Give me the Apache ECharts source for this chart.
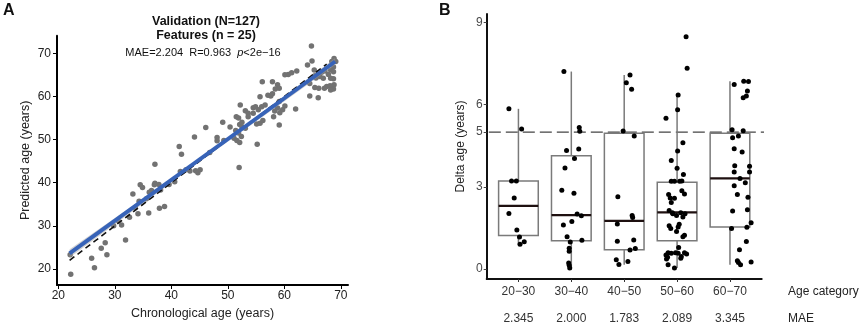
<!DOCTYPE html>
<html>
<head>
<meta charset="utf-8">
<script src="https://cdn.jsdelivr.net/npm/echarts@6/dist/echarts.min.js"></script>
<style>
  html, body { margin: 0; padding: 0; background: #fff; }
  #chart { width: 865px; height: 325px; }
</style>
</head>
<body>
<div id="chart"></div>
<script>
// panel A: chronological vs predicted age
const validationPts = [
  [22.2, 18.8], [22.1, 23.3], [26.4, 20.3], [25.9, 22.5], [28.6, 23.3], [27.6, 24.8], [28.3, 26.1],
  [31.9, 26.7], [31.2, 30.2], [29.8, 30.0], [30.6, 31.2], [32.6, 32.0], [34.1, 32.8], [36.0, 33.0],
  [37.9, 34.1], [38.8, 34.5], [33.2, 37.4], [34.5, 39.5], [34.9, 38.9], [34.3, 35.7], [35.6, 36.3],
  [36.1, 37.8], [36.5, 38.2], [37.1, 39.9], [37.8, 39.6], [37.0, 39.5], [37.1, 44.3], [38.1, 38.3],
  [39.6, 39.6], [40.6, 40.2], [33.6, 34.2],
  [41.4, 48.4], [41.8, 46.6], [43.3, 42.7], [44.3, 42.8], [44.7, 42.3], [45.1, 43.0], [41.6, 42.6],
  [44.1, 50.6], [46.1, 52.8], [49.1, 54.0], [48.1, 50.5], [48.1, 49.7], [49.3, 49.8], [46.8, 47.0],
  [50.4, 52.9], [42.6, 43.0],
  [51.5, 55.3], [51.9, 55.0], [52.2, 58.0], [52.0, 43.5], [55.2, 48.9], [51.1, 50.3], [51.6, 49.8],
  [52.1, 49.3], [52.4, 50.7], [52.1, 53.5], [52.5, 53.0], [53.1, 52.6], [51.4, 52.1], [51.9, 51.5],
  [53.1, 56.7], [53.6, 56.1], [53.6, 55.3], [54.5, 57.4], [54.9, 57.6], [55.4, 56.9], [56.0, 57.6],
  [56.6, 58.0], [55.1, 53.6], [55.7, 53.8], [56.2, 54.4], [52.5, 54.0], [54.5, 56.1],
  [55.7, 59.9], [57.1, 60.3], [57.6, 60.1], [57.9, 60.6], [57.9, 63.4], [58.8, 62.7], [59.1, 61.9],
  [58.4, 61.7], [59.1, 58.8], [60.1, 57.8], [59.7, 56.9], [58.8, 57.3], [58.1, 55.3], [58.3, 56.6],
  [59.1, 53.4], [62.0, 57.1], [59.2, 56.2], [56.1, 63.4], [60.1, 65.0], [60.7, 65.1], [61.3, 65.5],
  [62.2, 65.9],
  [64.5, 60.1], [66.0, 59.7], [65.4, 62.1], [66.1, 61.9], [67.1, 61.9], [67.5, 62.3], [68.7, 64.1],
  [68.2, 64.2], [68.8, 62.7], [68.1, 62.5], [68.7, 61.7], [68.2, 61.5], [65.4, 64.8], [66.3, 64.6],
  [66.9, 64.2], [67.8, 65.1], [64.5, 63.0], [65.6, 64.3], [65.3, 66.1], [66.0, 65.4], [66.6, 65.6],
  [67.2, 65.9], [64.8, 71.7], [64.9, 68.2], [64.1, 67.3], [68.8, 68.8], [69.1, 68.1], [68.4, 68.1],
  [68.7, 66.8], [68.2, 66.1], [68.7, 65.7]
];
const fitX = [22, 69];
const fitY = [23.6, 68.1];
const bandX = [22, 45.5, 69];
const bandLo = [22.6, 45.3, 67.3];
const bandHi = [24.6, 45.8, 68.9];
const identX = [22, 67.5];
const ticksA = [20, 30, 40, 50, 60, 70];

// panel B: delta age by age category
const ageCats = ['20\u221230', '30\u221240', '40\u221250', '50\u221260', '60\u221270'];
const maeVals = ['2.345', '2.000', '1.783', '2.089', '3.345'];
// [lower whisker, q1, median, q3, upper whisker]
const boxStats = [
  [0.91, 1.23, 2.31, 3.22, 5.85],
  [0.04, 1.04, 1.97, 4.14, 7.21],
  [0.16, 0.71, 1.76, 4.96, 7.08],
  [0.04, 1.04, 2.07, 3.17, 6.35],
  [0.16, 1.54, 3.31, 4.96, 6.86]
];
const pts2030 = [
  [0.82, 5.85], [1.06, 5.11], [0.87, 3.22], [0.96, 3.22], [0.92, 2.60], [0.82, 2.03], [0.97, 1.43],
  [1.02, 1.17], [1.03, 0.91], [1.11, 1.00]
];
const pts3040 = [
  [1.86, 7.21], [2.15, 5.17], [2.16, 5.03], [1.91, 4.33], [2.14, 4.38], [2.06, 4.04], [1.88, 3.69],
  [1.82, 2.88], [2.05, 2.77], [2.11, 2.01], [2.19, 1.95], [1.85, 1.61], [2.01, 1.74], [1.92, 1.18],
  [2.20, 1.05], [1.98, 0.99], [1.96, 0.76], [1.96, 0.65], [1.95, 0.22], [1.96, 0.14], [1.97, 0.04]
];
const pts4050 = [
  [3.11, 7.08], [3.04, 6.80], [3.14, 6.56], [2.98, 5.04], [3.19, 4.86], [2.88, 2.64], [3.15, 1.96],
  [3.16, 1.88], [2.87, 1.65], [2.87, 1.02], [3.18, 1.06], [3.21, 0.75], [3.11, 0.70], [2.85, 0.34],
  [2.90, 0.17], [3.07, 0.28]
];
const pts5060 = [
  [4.17, 8.48], [4.19, 7.33], [4.02, 6.35], [4.01, 5.82], [3.79, 5.51], [4.11, 4.61], [4.01, 4.31],
  [3.89, 3.96], [4.00, 3.68], [4.12, 3.45], [3.89, 3.21], [3.95, 3.21], [4.05, 3.21], [4.09, 3.22],
  [4.09, 2.86], [4.14, 2.74], [3.84, 2.72], [3.87, 2.60], [3.95, 2.59], [3.89, 2.43], [3.85, 2.14],
  [3.91, 2.06], [3.92, 2.02], [4.07, 2.06], [4.15, 2.02], [4.11, 1.90], [3.99, 1.96], [3.85, 1.58],
  [3.88, 1.48], [4.04, 1.64], [4.02, 1.54], [3.99, 1.37], [4.14, 1.24], [4.11, 1.18], [4.03, 0.79],
  [3.83, 0.60], [3.89, 0.58], [3.79, 0.52], [3.97, 0.60], [4.02, 0.58], [4.14, 0.60], [4.18, 0.55],
  [3.80, 0.37], [3.82, 0.43], [4.07, 0.40], [4.08, 0.46], [3.83, 0.16], [3.95, 0.04]
];
const pts6070 = [
  [5.08, 6.74], [5.26, 6.86], [5.35, 6.85], [5.33, 6.50], [5.31, 6.32], [5.25, 6.25], [5.04, 5.09],
  [5.25, 5.05], [5.16, 4.86], [5.05, 4.79], [5.08, 4.39], [5.23, 4.27], [5.09, 3.77], [5.37, 3.75],
  [5.08, 3.54], [5.37, 3.54], [5.19, 3.31], [5.29, 3.15], [5.08, 3.04], [5.14, 2.72], [5.34, 2.62],
  [5.05, 2.12], [5.33, 2.17], [5.40, 1.69], [5.03, 1.48], [5.32, 1.53], [5.31, 1.01], [5.18, 0.71],
  [5.14, 0.31], [5.16, 0.24], [5.20, 0.16], [5.40, 0.26]
];
const refDelta = 5;
const ticksB = [0, 3, 5, 6, 9];

const FONT = '"Liberation Sans", Arial, sans-serif';

const chart = echarts.init(document.getElementById('chart'), null, { renderer: 'canvas' });

const renderBox = (params, api) => {
  const i = api.value(0);
  const lo = api.value(1), q1 = api.value(2), md = api.value(3), q3 = api.value(4), hi = api.value(5);
  const hw = 0.375;
  const tl = api.coord([i - hw, q3]);
  const br = api.coord([i + hw, q1]);
  const pHi = api.coord([i, hi]), pQ3 = api.coord([i, q3]);
  const pLo = api.coord([i, lo]), pQ1 = api.coord([i, q1]);
  const mL = api.coord([i - hw, md]), mR = api.coord([i + hw, md]);
  const gray = { stroke: '#7a7a7a', lineWidth: 1.5, fill: null };
  return {
    type: 'group',
    children: [
      { type: 'line', shape: { x1: pHi[0], y1: pHi[1], x2: pQ3[0], y2: pQ3[1] }, style: gray },
      { type: 'line', shape: { x1: pLo[0], y1: pLo[1], x2: pQ1[0], y2: pQ1[1] }, style: gray },
      { type: 'rect', shape: { x: tl[0], y: tl[1], width: br[0] - tl[0], height: br[1] - tl[1] }, style: gray },
      { type: 'line', shape: { x1: mL[0], y1: mL[1], x2: mR[0], y2: mR[1] }, style: { stroke: '#1e1010', lineWidth: 2.2 } }
    ]
  };
};

const renderBand = (params, api) => {
  const up = bandX.map((x, i) => api.coord([x, bandHi[i]]));
  const dn = bandX.map((x, i) => api.coord([x, bandLo[i]])).reverse();
  return { type: 'polygon', shape: { points: up.concat(dn) }, style: { fill: 'rgba(160,160,160,0.45)' } };
};

const option = {
  animation: false,
  textStyle: { fontFamily: FONT },
  grid: [
    { left: 57, top: 35.7, width: 291, height: 249.3 },
    { left: 486.7, top: 14, width: 275, height: 267 }
  ],
  xAxis: [
    {
      type: 'value', gridIndex: 0, min: 19.77, max: 71.27,
      name: 'Chronological age (years)', nameLocation: 'middle', nameGap: 19,
      nameTextStyle: { fontFamily: FONT, fontSize: 12.5, color: '#222' },
      axisLine: { show: true, onZero: false, lineStyle: { color: '#000', width: 2 } },
      axisTick: { show: true, length: 4, customValues: ticksA, lineStyle: { color: '#000' } },
      axisLabel: { customValues: ticksA, margin: 5, fontFamily: FONT, fontSize: 12, color: '#222' },
      splitLine: { show: false }
    },
    {
      type: 'value', gridIndex: 1, min: 0.4, max: 5.6,
      axisLine: { show: true, onZero: false, lineStyle: { color: '#111', width: 2 } },
      axisTick: { show: true, length: 3, customValues: [1, 2, 3, 4, 5], lineStyle: { color: '#333' } },
      axisLabel: {
        customValues: [1, 2, 3, 4, 5], margin: 7, fontFamily: FONT, fontSize: 12, color: '#333',
        formatter: (v) => ageCats[Math.round(v) - 1]
      },
      splitLine: { show: false }
    },
    {
      type: 'value', gridIndex: 1, min: 0.4, max: 5.6, position: 'bottom', offset: 29,
      axisLine: { show: false }, axisTick: { show: false },
      axisLabel: {
        customValues: [1, 2, 3, 4, 5], margin: 5, fontFamily: FONT, fontSize: 12, color: '#333',
        formatter: (v) => maeVals[Math.round(v) - 1]
      },
      splitLine: { show: false }
    }
  ],
  yAxis: [
    {
      type: 'value', gridIndex: 0, min: 16.29, max: 74.08,
      name: 'Predicted age (years)', nameLocation: 'middle', nameGap: 25,
      nameTextStyle: { fontFamily: FONT, fontSize: 12.5, color: '#222' },
      axisLine: { show: true, onZero: false, lineStyle: { color: '#000', width: 2 } },
      axisTick: { show: true, length: 4, customValues: ticksA, lineStyle: { color: '#000' } },
      axisLabel: { customValues: ticksA, margin: 6, fontFamily: FONT, fontSize: 12, color: '#222' },
      splitLine: { show: false }
    },
    {
      type: 'value', gridIndex: 1, min: -0.36, max: 9.31,
      name: 'Delta age (years)', nameLocation: 'middle', nameGap: 20,
      nameTextStyle: { fontFamily: FONT, fontSize: 12, color: '#222' },
      axisLine: { show: true, onZero: false, lineStyle: { color: '#111', width: 2 } },
      axisTick: { show: true, length: 3, customValues: ticksB, lineStyle: { color: '#444' } },
      axisLabel: { customValues: ticksB, margin: 4, fontFamily: FONT, fontSize: 12, color: '#4a4a4a' },
      splitLine: { show: false }
    }
  ],
  series: [
    {
      type: 'scatter', xAxisIndex: 0, yAxisIndex: 0, z: 2,
      symbolSize: 5.5, itemStyle: { color: '#727272', opacity: 1 },
      data: validationPts
    },
    {
      type: 'custom', xAxisIndex: 0, yAxisIndex: 0, z: 3,
      renderItem: renderBand, data: [[bandX[0], bandLo[0]]]
    },
    {
      type: 'line', xAxisIndex: 0, yAxisIndex: 0, z: 4, symbol: 'none',
      lineStyle: { color: '#111', width: 1.6, type: [6, 4] },
      data: identX.map((x) => [x, x])
    },
    {
      type: 'line', xAxisIndex: 0, yAxisIndex: 0, z: 5, symbol: 'none',
      lineStyle: { color: '#3763b8', width: 4 },
      data: fitX.map((x, i) => [x, fitY[i]])
    },
    {
      type: 'line', xAxisIndex: 1, yAxisIndex: 1, z: 2, symbol: 'none', clip: false,
      lineStyle: { color: '#444', width: 1.1, type: [12, 5] },
      data: [[0.44, refDelta], [5.72, refDelta]]
    },
    {
      type: 'custom', xAxisIndex: 1, yAxisIndex: 1, z: 3,
      renderItem: renderBox,
      data: boxStats.map((s, i) => [i + 1].concat(s))
    }
  ].concat([pts2030, pts3040, pts4050, pts5060, pts6070].map((g) => ({
    type: 'scatter', xAxisIndex: 1, yAxisIndex: 1, z: 4,
    symbolSize: 5, itemStyle: { color: '#000', opacity: 1 },
    data: g
  }))),
  graphic: [
    { type: 'text', left: 3, top: 3, style: { text: 'A', font: 'bold 16px ' + FONT, fill: '#111' } },
    { type: 'text', left: 439, top: 3, style: { text: 'B', font: 'bold 16px ' + FONT, fill: '#111' } },
    { type: 'text', x: 206, y: 22, style: { text: 'Validation (N=127)', font: 'bold 12.5px ' + FONT, fill: '#111', align: 'center', verticalAlign: 'middle' } },
    { type: 'text', x: 206, y: 36, style: { text: 'Features (n = 25)', font: 'bold 12.5px ' + FONT, fill: '#111', align: 'center', verticalAlign: 'middle' } },
    {
      type: 'text', x: 203, y: 53,
      style: {
        text: '{n|MAE=2.204  R=0.963  }{i|p}{n|<2e\u221216}',
        align: 'center', verticalAlign: 'middle',
        rich: {
          n: { fontFamily: FONT, fontSize: 11, fill: '#111' },
          i: { fontFamily: FONT, fontSize: 11, fontStyle: 'italic', fill: '#111' }
        }
      }
    },
    { type: 'text', x: 788, y: 292, style: { text: 'Age category', font: '12px ' + FONT, fill: '#222', verticalAlign: 'middle' } },
    { type: 'text', x: 788, y: 319, style: { text: 'MAE', font: '12px ' + FONT, fill: '#222', verticalAlign: 'middle' } }
  ]
};

chart.setOption(option);
window.addEventListener('resize', () => chart.resize());
</script>
</body>
</html>
